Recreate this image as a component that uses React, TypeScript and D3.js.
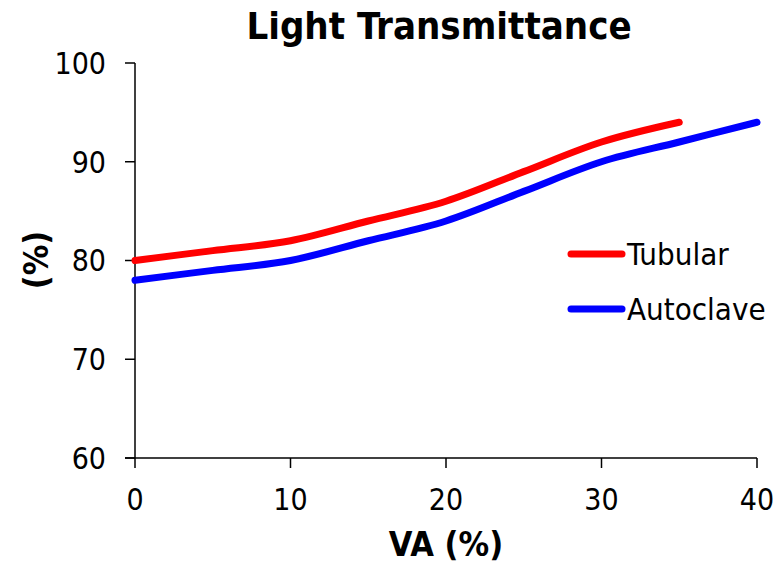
import React from "react";
import * as d3 from "d3";

const xValues = [0, 5, 10, 15, 20, 25, 30, 35, 40];
const tubular = [80, 81, 82, 84, 86, 89, 92, 94, null];
const autoclave = [78, 79, 80, 82, 84, 87, 90, 92, 94];
const xTicks = [0, 10, 20, 30, 40];
const yTicks = [60, 70, 80, 90, 100];
const seriesNames = ["Tubular", "Autoclave"];
const seriesColors = ["#ff0000", "#0000ff"];

const W = 784;
const H = 563;
const FONT = "'DejaVu Sans Condensed', 'DejaVu Sans', sans-serif";

export default function App() {
  const x = d3.scaleLinear().domain([0, 40]).range([135, 757]);
  const y = d3.scaleLinear().domain([60, 100]).range([458, 63]);
  const line = d3
    .line<[number, number | null]>()
    .defined((d) => d[1] !== null)
    .x((d) => x(d[0]))
    .y((d) => y(d[1] as number))
    .curve(d3.curveCatmullRom.alpha(0));
  const series = [tubular, autoclave];
  return (
    <svg width={W} height={H} style={{ position: "absolute", left: 0, top: 0, background: "#fff" }}>
      <text x={439} y={39} textAnchor="middle" fontFamily={FONT} fontWeight="bold" fontSize={38}>
        Light Transmittance
      </text>
      {/* axes */}
      <line x1={135} x2={135} y1={y(100)} y2={y(60)} stroke="#000" strokeWidth={1.5} />
      <line x1={125} x2={x(40)} y1={458} y2={458} stroke="#000" strokeWidth={1.5} />
      {yTicks.map((t) => (
        <g key={"y" + t}>
          <line x1={125} x2={135} y1={y(t)} y2={y(t)} stroke="#000" strokeWidth={1.5} />
          <text x={106} y={y(t)} dy="0.36em" textAnchor="end" fontFamily={FONT} fontSize={30}>
            {t}
          </text>
        </g>
      ))}
      {xTicks.map((t) => (
        <g key={"x" + t}>
          <line x1={x(t)} x2={x(t)} y1={458} y2={468} stroke="#000" strokeWidth={1.5} />
          <text x={x(t)} y={510} textAnchor="middle" fontFamily={FONT} fontSize={30}>
            {t}
          </text>
        </g>
      ))}
      <text x={446} y={556} textAnchor="middle" fontFamily={FONT} fontWeight="bold" fontSize={34}>
        VA (%)
      </text>
      <text
        transform={`translate(48,260) rotate(-90)`}
        textAnchor="middle"
        fontFamily={FONT}
        fontWeight="bold"
        fontSize={34}
      >
        (%)
      </text>
      {series.map((s, i) => (
        <path
          key={seriesNames[i]}
          d={line(xValues.map((v, j) => [v, s[j]]) as [number, number | null][]) || ""}
          fill="none"
          stroke={seriesColors[i]}
          strokeWidth={7}
          strokeLinecap="round"
          strokeLinejoin="round"
        />
      ))}
      {seriesNames.map((n, i) => (
        <g key={"lg" + n}>
          <line x1={571} x2={622} y1={254 + i * 55} y2={254 + i * 55} stroke={seriesColors[i]} strokeWidth={7} strokeLinecap="round" />
          <text x={627} y={254 + i * 55} dy="0.36em" fontFamily={FONT} fontSize={31}>
            {n}
          </text>
        </g>
      ))}
    </svg>
  );
}
